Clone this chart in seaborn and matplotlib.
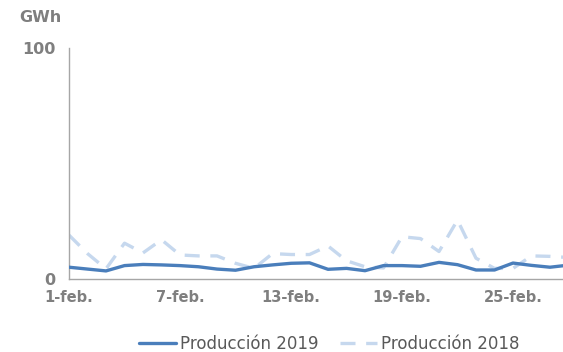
import matplotlib
matplotlib.use("Agg")
import matplotlib.pyplot as plt
from matplotlib.lines import Line2D
import pandas as pd
import seaborn as sns

# Daily production in February (GWh)
days = [f"{d}-feb." for d in range(1, 29)]
prod_2019 = [5.1, 4.3, 3.5, 5.8, 6.3, 6.1, 5.8, 5.3, 4.3, 3.8,
             5.3, 6.1, 6.8, 7.0, 4.2, 4.6, 3.6, 5.8, 5.8, 5.5,
             7.2, 6.2, 3.9, 3.9, 6.9, 5.9, 5.1, 6.0]
prod_2018 = [19.0, 11.0, 4.4, 15.5, 11.3, 17.0, 10.4, 10.0, 10.0, 6.8,
             4.6, 11.0, 10.6, 10.6, 14.3, 7.9, 5.3, 4.8, 18.3, 17.5,
             11.9, 25.5, 9.0, 4.6, 4.6, 10.0, 9.8, 9.3]
tick_days = ["1-feb.", "7-feb.", "13-feb.", "19-feb.", "25-feb."]
y_ticks = [0, 100]

c19 = "#4a7ebb"
c18 = "#c6d8ee"
grey = "#7f7f7f"

df = pd.DataFrame({"dia": range(len(days)), "p19": prod_2019, "p18": prod_2018})

sns.set_style("white")
fig = plt.figure(figsize=(5.63, 3.52), dpi=100)
ax = fig.add_axes([69 / 563, 1 - 279 / 352, 499.5 / 563, 231 / 352])

sns.lineplot(data=df, x="dia", y="p18", ax=ax, color=c18, linewidth=2.4, zorder=2)
ax.lines[-1].set_dashes([4.5, 3.2])
sns.lineplot(data=df, x="dia", y="p19", ax=ax, color=c19, linewidth=2.4, zorder=3)

ax.set_xlim(0, len(days) - 1)
ax.set_ylim(0, 100)
ax.set_xlabel("")
ax.set_ylabel("")
ax.set_xticks([days.index(t) for t in tick_days])
ax.set_xticklabels(tick_days)
ax.set_yticks(y_ticks)
ax.set_yticklabels([str(v) for v in y_ticks])
ax.tick_params(axis="both", length=0, labelcolor=grey)
ax.tick_params(axis="x", pad=8, labelsize=10.5)
ax.tick_params(axis="y", pad=10, labelsize=11.5)
for lab in ax.get_xticklabels() + ax.get_yticklabels():
    lab.set_fontweight("bold")

for side in ["top", "right"]:
    ax.spines[side].set_visible(False)
for side in ["left", "bottom"]:
    ax.spines[side].set_color("#a6a6a6")
    ax.spines[side].set_linewidth(1.0)

fig.text(40 / 563, 1 - 17 / 352, "GWh", ha="center", va="center",
         fontsize=11.5, fontweight="bold", color=grey)

handles = [Line2D([], [], color=c19, linewidth=2.4),
           Line2D([], [], color=c18, linewidth=2.4, dashes=[4.5, 3.2])]
fig.legend(handles, ["Producción 2019", "Producción 2018"],
           loc="center", bbox_to_anchor=(329 / 563, 1 - 344 / 352), ncol=2,
           frameon=False, fontsize=12, labelcolor="#595959",
           handlelength=2.2, handletextpad=0.25, columnspacing=1.3)

fig.savefig("out.png", dpi=100)
